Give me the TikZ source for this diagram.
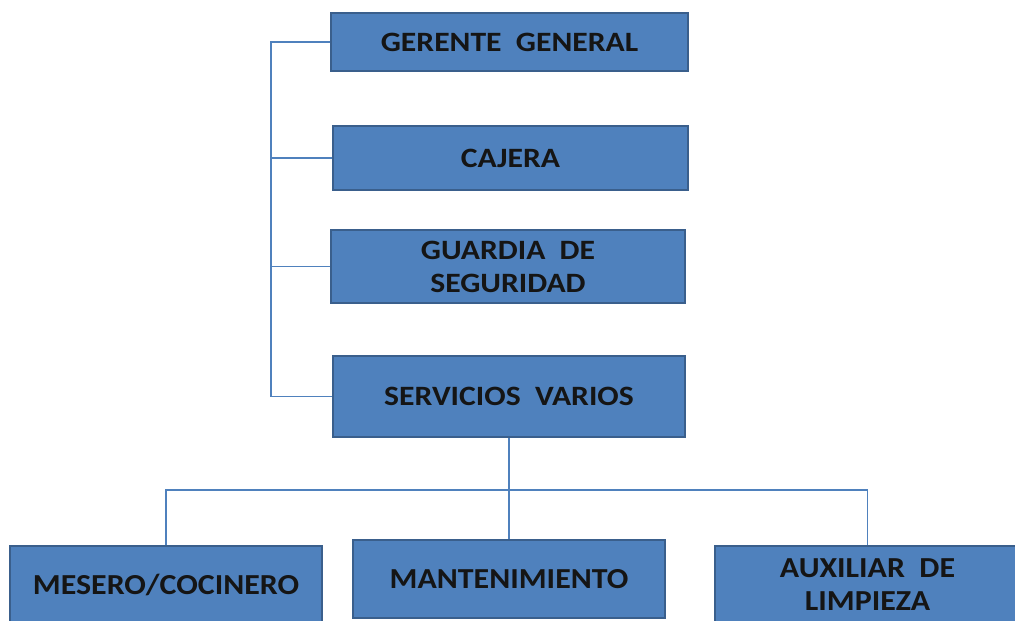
\documentclass[tikz,border=0pt]{standalone}
\usepackage{fontspec}
\setmainfont{Carlito}
\newfontfamily\wideorg[FakeStretch=1.13]{Carlito}
\newfontfamily\lowerorg[FakeStretch=1.1]{Carlito}
\definecolor{boxfill}{HTML}{4F81BD}
\definecolor{boxline}{HTML}{3A5F8C}
\definecolor{conn}{HTML}{4F81BD}
\definecolor{txt}{HTML}{151515}
\begin{document}
\begin{tikzpicture}[x=1pt,y=-1pt,
  orgbox/.style={draw=boxline, line width=1.5pt, fill=boxfill, rectangle, inner sep=0pt, align=center,
    text=txt, font=\wideorg\fontsize{28}{33}\selectfont\bfseries},
  lowbox/.style={orgbox, font=\lowerorg\fontsize{29}{33}\selectfont\bfseries},
  link/.style={draw=conn, line width=1.5pt}]
\useasboundingbox (0,0) rectangle (1015,621);
\clip (0,0) rectangle (1015,621);
\fill[white] (0,0) rectangle (1015,621);
\node[orgbox, minimum width=357pt, minimum height=58pt] (gg) at (509.5,42) {GERENTE\ \ GENERAL};
\node[orgbox, minimum width=355pt, minimum height=64pt] (cj) at (510.5,158) {CAJERA};
\node[orgbox, minimum width=354pt, minimum height=73pt] (gs) at (508,266.5) {GUARDIA\ \ DE\\SEGURIDAD};
\node[orgbox, minimum width=352pt, minimum height=81pt] (sv) at (509,396.5) {SERVICIOS\ \ VARIOS};
\node[lowbox, minimum width=312pt, minimum height=78pt] (ms) at (166,585) {MESERO/COCINERO};
\node[lowbox, minimum width=312pt, minimum height=78pt] (mt) at (509,579) {MANTENIMIENTO};
\node[lowbox, minimum width=305pt, minimum height=78pt] (ax) at (867.5,585) {AUXILIAR\ \ DE\\LIMPIEZA};
\coordinate (sl) at (271,0);
\coordinate (bus) at (0,490);
\draw[link] (gg.west) -- (gg.west -| sl) -- (sv.west -| sl) -- (sv.west);
\draw[link] (cj.west) -- (cj.west -| sl);
\draw[link] (gs.west) -- (gs.west -| sl);
\draw[link] (sv.south) -- (mt.north);
\draw[link] (ms.north) -- (ms.north |- bus) -- (ax.north |- bus) -- (ax.north);
\end{tikzpicture}
\end{document}
